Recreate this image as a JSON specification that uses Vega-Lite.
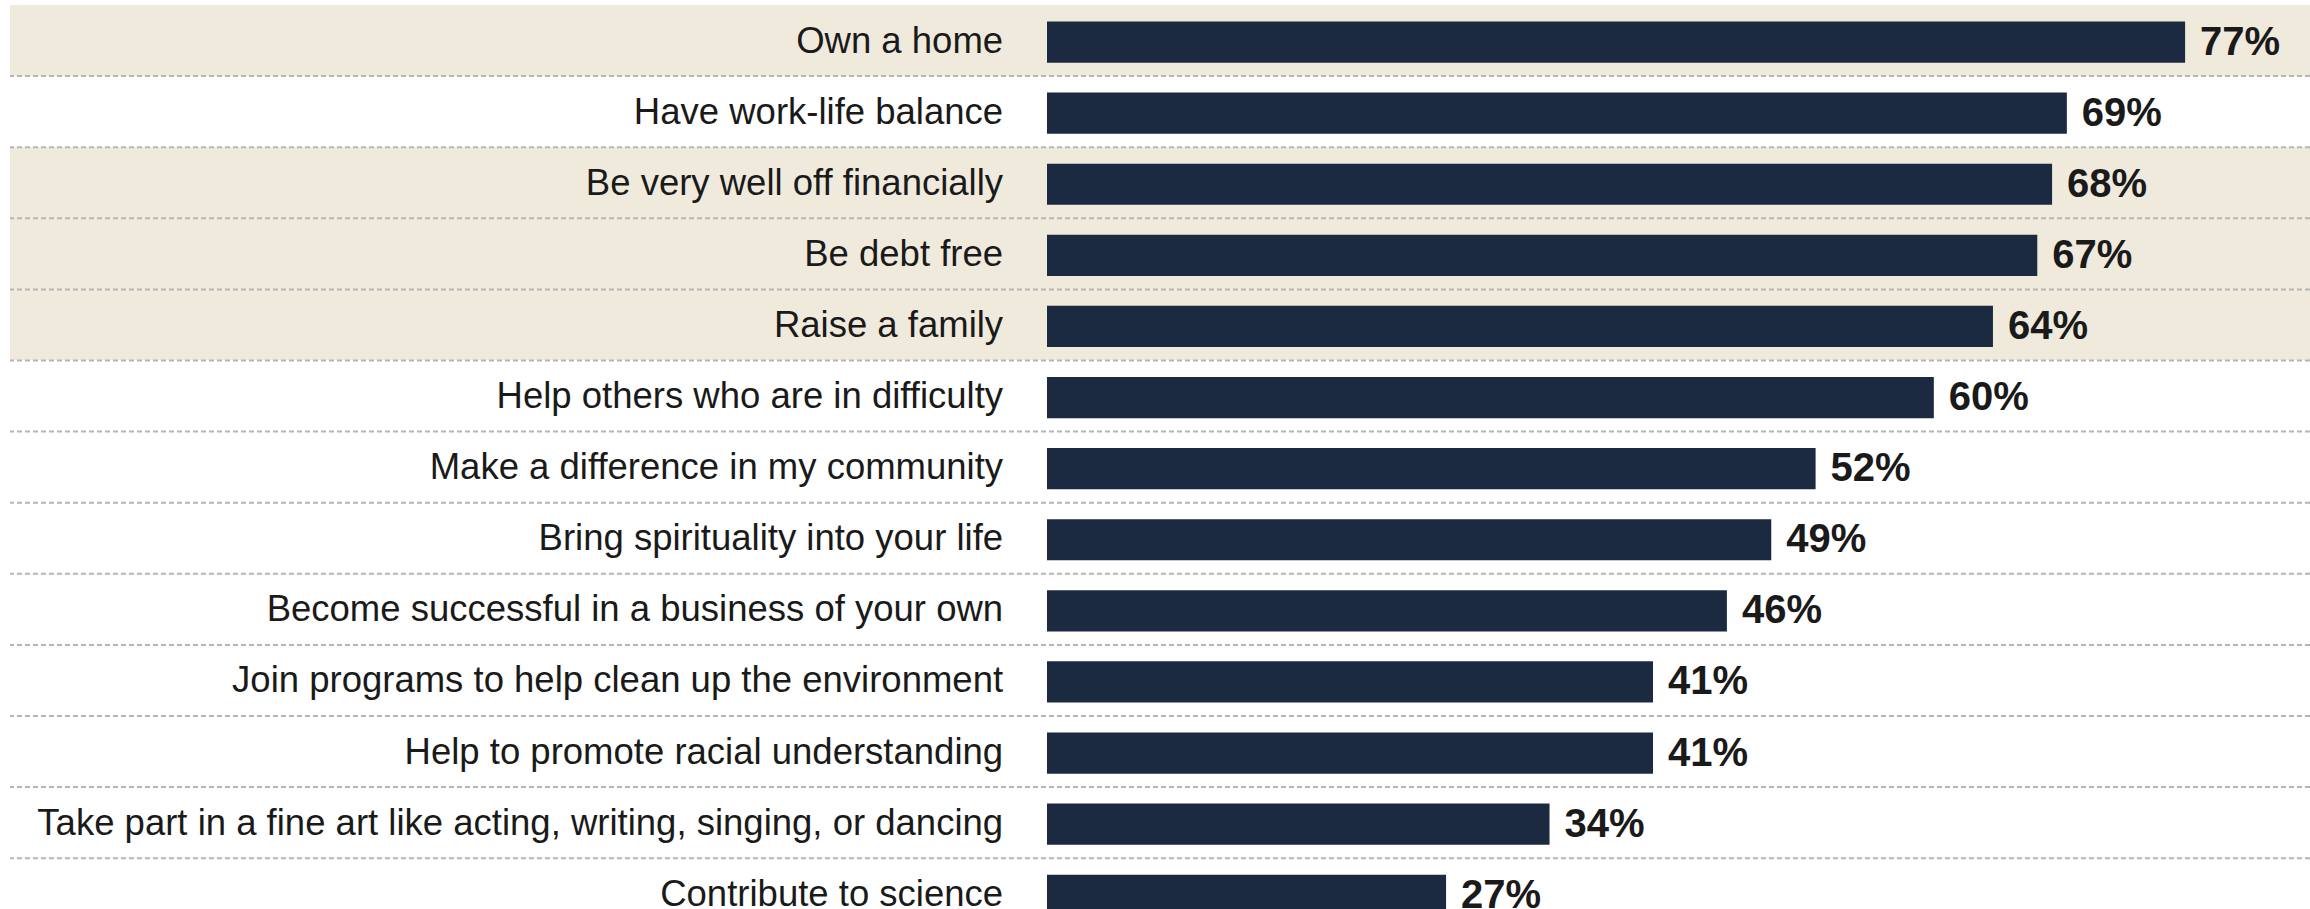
{
  "$schema": "https://vega.github.io/schema/vega-lite/v6.json",
  "autosize": "none",
  "width": 2300,
  "height": 904,
  "padding": {"left": 10, "top": 5, "right": 0, "bottom": 0},
  "background": "white",
  "config": {"view": {"stroke": null}, "font": "Liberation Sans"},
  "data": {
    "values": [
      {"item": "Own a home", "value": 77, "label": "77%", "bg": "beige"},
      {"item": "Have work-life balance", "value": 69, "label": "69%", "bg": "white"},
      {"item": "Be very well off financially", "value": 68, "label": "68%", "bg": "beige"},
      {"item": "Be debt free", "value": 67, "label": "67%", "bg": "beige"},
      {"item": "Raise a family", "value": 64, "label": "64%", "bg": "beige"},
      {"item": "Help others who are in difficulty", "value": 60, "label": "60%", "bg": "white"},
      {"item": "Make a difference in my community", "value": 52, "label": "52%", "bg": "white"},
      {"item": "Bring spirituality into your life", "value": 49, "label": "49%", "bg": "white"},
      {"item": "Become successful in a business of your own", "value": 46, "label": "46%", "bg": "white"},
      {"item": "Join programs to help clean up the environment", "value": 41, "label": "41%", "bg": "white"},
      {"item": "Help to promote racial understanding", "value": 41, "label": "41%", "bg": "white"},
      {"item": "Take part in a fine art like acting, writing, singing, or dancing", "value": 34, "label": "34%", "bg": "white"},
      {"item": "Contribute to science", "value": 27, "label": "27%", "bg": "white"}
    ]
  },
  "layer": [
    {
      "mark": {"type": "rect"},
      "encoding": {
        "y": {
          "field": "item", "type": "nominal", "sort": null,
          "scale": {"range": [0, 924.3], "paddingInner": 0, "paddingOuter": 0},
          "axis": null
        },
        "x": {"value": 0},
        "x2": {"value": "width"},
        "fill": {
          "field": "bg", "type": "nominal",
          "scale": {"domain": ["beige", "white"], "range": ["#F0EADD", "#FFFFFF"]},
          "legend": null
        }
      }
    },
    {
      "mark": {"type": "rule", "strokeDash": [5, 3], "strokeWidth": 2, "color": "#B5B5B5"},
      "encoding": {
        "y": {"field": "item", "type": "nominal", "sort": null, "bandPosition": 1, "axis": null}
      }
    },
    {
      "mark": {"type": "bar", "color": "#1B2A40", "height": {"band": 0.58}, "yOffset": 1.5},
      "encoding": {
        "y": {"field": "item", "type": "nominal", "sort": null, "axis": null},
        "x": {
          "field": "value", "type": "quantitative",
          "scale": {"domain": [-70.16, 85.45], "nice": false},
          "axis": null
        }
      }
    },
    {
      "mark": {
        "type": "text", "align": "left", "baseline": "middle", "dx": 15, "yOffset": 2,
        "fontSize": 40, "fontWeight": "bold", "color": "#1a1a1a", "font": "Liberation Sans"
      },
      "encoding": {
        "y": {"field": "item", "type": "nominal", "sort": null, "axis": null},
        "x": {"field": "value", "type": "quantitative", "axis": null},
        "text": {"field": "label"}
      }
    },
    {
      "mark": {
        "type": "text", "align": "right", "baseline": "middle", "yOffset": 1,
        "fontSize": 36.5, "color": "#1a1a1a", "font": "Liberation Sans"
      },
      "encoding": {
        "y": {"field": "item", "type": "nominal", "sort": null, "axis": null},
        "x": {"datum": -2.97, "type": "quantitative"},
        "text": {"field": "item"}
      }
    }
  ]
}
